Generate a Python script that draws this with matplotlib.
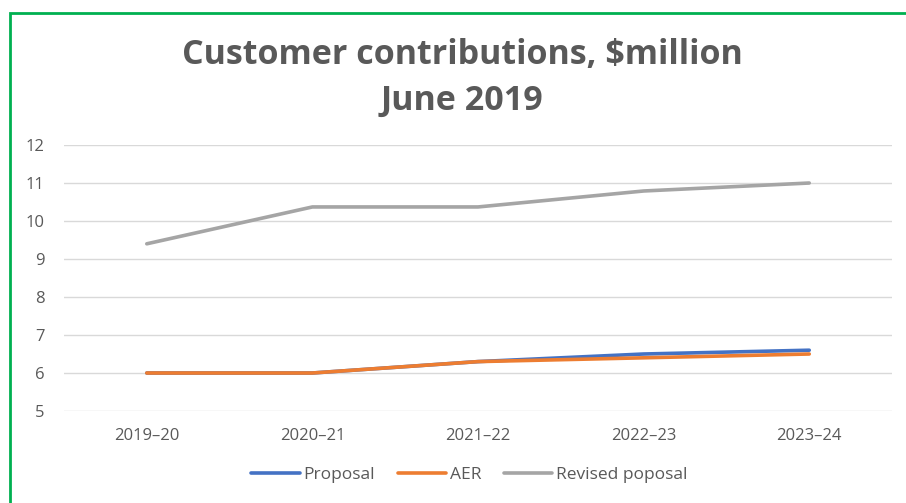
import matplotlib
matplotlib.use('Agg')
import matplotlib.pyplot as plt
from matplotlib.patches import Rectangle

years = ['2019–20', '2020–21', '2021–22', '2022–23', '2023–24']
proposal = [6.0, 6.0, 6.3, 6.5, 6.6]
aer = [6.0, 6.0, 6.3, 6.4, 6.5]
revised = [9.4, 10.37, 10.37, 10.79, 11.0]

text_col = '#595959'
plt.rcParams['font.family'] = ['Open Sans', 'DejaVu Sans']

fig = plt.figure(figsize=(9.06, 5.03), dpi=100)
ax = fig.add_axes([0.0706, 0.1829, 0.914, 0.5288])

x = range(len(years))
ax.plot(x, proposal, color='#4472C4', lw=2.6, solid_capstyle='round', label='Proposal')
ax.plot(x, aer, color='#ED7D31', lw=2.6, solid_capstyle='round', label='AER')
ax.plot(x, revised, color='#A5A5A5', lw=2.6, solid_capstyle='round', label='Revised poposal')

ax.set_xlim(-0.5, len(years) - 0.5)
ax.set_ylim(5, 12)
ax.set_yticks(range(5, 13))
ax.set_xticks(list(x))
ax.set_xticklabels(years)
ax.grid(axis='y', color='#D9D9D9', lw=1)
ax.set_axisbelow(True)
for s in ax.spines.values():
    s.set_visible(False)
ax.tick_params(length=0, labelsize=12, labelcolor=text_col)
ax.tick_params(axis='x', pad=12)
ax.tick_params(axis='y', pad=14)

fig.text(0.51, 0.891, 'Customer contributions, $million', ha='center', va='center',
         fontsize=24.5, fontweight='bold', color=text_col)
fig.text(0.51, 0.799, 'June 2019', ha='center', va='center',
         fontsize=24.5, fontweight='bold', color=text_col)

fig.legend(loc='center', bbox_to_anchor=(0.518, 0.056), ncol=3, frameon=False,
           fontsize=12.5, labelcolor=text_col, handlelength=2.8, handletextpad=0.2,
           columnspacing=1.3)

# green frame, open at right and bottom
fig.patches.append(Rectangle((10 / 906, -0.1), 1.2, 1.1 - 13 / 503,
                             transform=fig.transFigure, fill=False,
                             edgecolor='#00B050', lw=2))

fig.savefig('out.png', dpi=100)
